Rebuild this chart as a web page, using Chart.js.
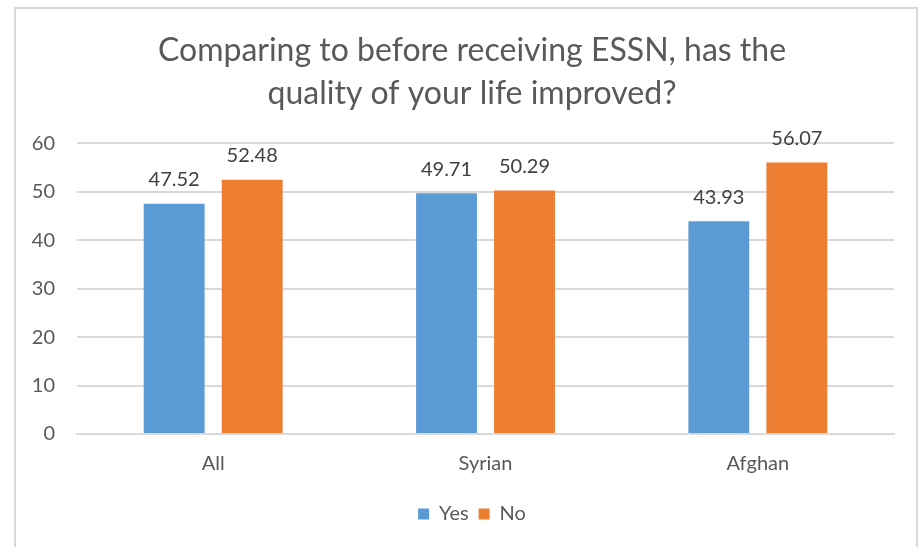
<!DOCTYPE html>
<html>
<head>
<meta charset="utf-8">
<script src="https://cdn.jsdelivr.net/npm/chart.js@4.4.1/dist/chart.umd.min.js"></script>
<style>
  html, body { margin: 0; padding: 0; background: #ffffff; }
  body { width: 924px; height: 547px; position: relative; overflow: hidden; }
  #frame { position: absolute; left: 14px; top: 7px; width: 904px; height: 600px; border: 2px solid #d9d9d9; box-sizing: border-box; }
  #wrap { position: absolute; left: 0; top: 0; width: 924px; height: 547px; }
</style>
</head>
<body>
<div id="frame"></div>
<div id="wrap"><canvas id="c" width="924" height="547"></canvas></div>
<script>
const categories = ["All", "Syrian", "Afghan"];
const yesValues = [47.52, 49.71, 43.93];
const noValues = [52.48, 50.29, 56.07];
const seriesNames = ["Yes", "No"];
const yTicks = [0, 10, 20, 30, 40, 50, 60];
const titleLines = ["Comparing to before receiving ESSN, has the", "quality of your life improved?"];

const FONT = "Lato, 'Open Sans', sans-serif";

const valueLabels = {
  id: 'valueLabels',
  afterDatasetsDraw(chart) {
    const ctx = chart.ctx;
    ctx.save();
    ctx.font = "20px " + FONT;
    ctx.fillStyle = "#404040";
    ctx.textAlign = "center";
    ctx.textBaseline = "middle";
    chart.data.datasets.forEach((ds, i) => {
      const meta = chart.getDatasetMeta(i);
      meta.data.forEach((bar, j) => {
        ctx.fillText(ds.data[j].toFixed(2), bar.x, bar.y - 24);
      });
    });
    ctx.restore();
  }
};

new Chart(document.getElementById('c'), {
  type: 'bar',
  data: {
    labels: categories,
    datasets: [
      { label: seriesNames[0], data: yesValues, backgroundColor: "#5b9bd5", categoryPercentage: 0.573, barPercentage: 0.78 },
      { label: seriesNames[1], data: noValues, backgroundColor: "#ed7d31", categoryPercentage: 0.573, barPercentage: 0.78 }
    ]
  },
  options: {
    responsive: false,
    animation: false,
    layout: { padding: { left: 25, right: 5, top: 20, bottom: 13 } },
    plugins: {
      title: {
        display: true,
        text: titleLines,
        color: "#595959",
        font: { family: FONT, size: 32, weight: 'normal', lineHeight: 1.35 },
        padding: { top: 9, bottom: 28 }
      },
      legend: {
        position: 'bottom',
        labels: {
          color: "#595959",
          font: { family: FONT, size: 20 },
          boxWidth: 11,
          boxHeight: 11,
          padding: 10
        }
      },
      tooltip: { enabled: false }
    },
    scales: {
      x: {
        grid: { display: false, drawTicks: false },
        border: { display: true, color: "#d9d9d9", width: 2 },
        ticks: { color: "#595959", font: { family: FONT, size: 20 }, padding: 18 }
      },
      y: {
        min: 0, max: 60,
        afterBuildTicks: (s) => { s.ticks = yTicks.map(v => ({ value: v })); },
        afterFit: (s) => { s.width = 52; },
        grid: { color: "#d9d9d9", lineWidth: 2, drawTicks: false },
        border: { display: false },
        ticks: { color: "#595959", font: { family: FONT, size: 20 }, padding: 22 }
      },
      yRightSpacer: {
        position: 'right',
        display: true,
        min: 0, max: 60,
        afterFit: (s) => { s.width = 25; },
        grid: { display: false, drawTicks: false },
        border: { display: false },
        ticks: { display: false }
      }
    }
  },
  plugins: [valueLabels]
});
</script>
</body>
</html>
